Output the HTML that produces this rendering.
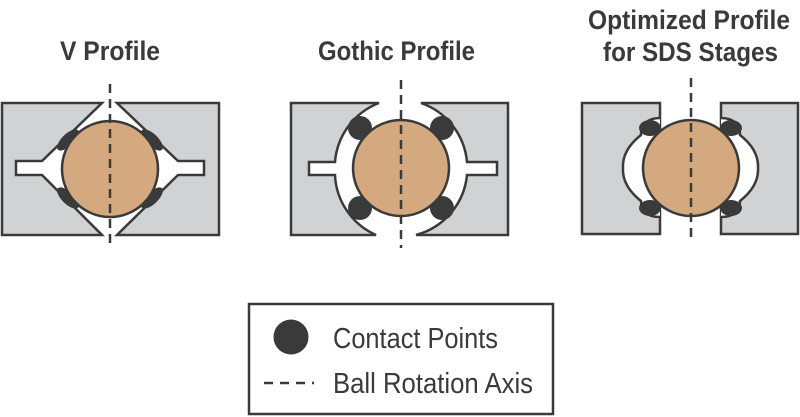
<!DOCTYPE html>
<html><head><meta charset="utf-8"><style>
html,body{margin:0;padding:0;background:#fff;}
svg{display:block;}
text{font-family:"Liberation Sans",sans-serif;fill:#3a3a3a;}
</style></head><body>
<svg width="800" height="417" viewBox="0 0 800 417" xmlns="http://www.w3.org/2000/svg">
<g stroke="#3a3a3a" stroke-width="2.5" stroke-linejoin="miter">
<!-- V profile -->
<path d="M2,103 H102 L42,161 H16 V175 H42 L102,235 H2 Z" fill="#d1d2d4"/>
<path d="M219,103 H117 L178,161 H204 V175 H178 L117,235 H219 Z" fill="#d1d2d4"/>
<g fill="#3a3a3a" stroke="none">
<ellipse cx="68" cy="140" rx="14" ry="6" transform="rotate(-44 68 140)"/>
<ellipse cx="68" cy="198" rx="14" ry="6" transform="rotate(44 68 198)"/>
<ellipse cx="152" cy="140" rx="14" ry="6" transform="rotate(44 152 140)"/>
<ellipse cx="152" cy="198" rx="14" ry="6" transform="rotate(-44 152 198)"/>
</g>
<circle cx="110" cy="169" r="48" fill="#d4a97f"/>

<!-- Gothic -->
<path d="M291,103 H374 L379,103 A69,69 0 0 0 335,162 H309 V175 H335 A69,69 0 0 0 376,235 H291 Z" fill="#d1d2d4"/>
<path d="M508,103 H424 L421,103 A69,69 0 0 1 467,162 H497 V175 H467 A69,69 0 0 1 416,235 H508 Z" fill="#d1d2d4"/>
<g fill="#3a3a3a" stroke="none">
<circle cx="360" cy="128" r="12"/>
<circle cx="442" cy="128" r="12"/>
<circle cx="360" cy="208" r="12"/>
<circle cx="442" cy="208" r="12"/>
</g>
<circle cx="401" cy="168" r="48" fill="#d4a97f"/>

<!-- Optimized -->
<rect x="582" y="103" width="78" height="131" fill="#d1d2d4"/>
<rect x="721" y="103" width="77" height="131" fill="#d1d2d4"/>
<path d="M660,118 C647,118 641,125 641,135 Q622,150 623,168 Q622,186 641,201 C641,211 647,217 660,217" fill="#fff"/>
<path d="M721,118 C734,118 740,125 740,135 Q759,150 758,168 Q759,186 740,201 C740,211 734,217 721,217" fill="#fff"/>
<g fill="#3a3a3a" stroke="none">
<ellipse cx="650" cy="128" rx="11" ry="8"/>
<ellipse cx="650" cy="208" rx="11" ry="8"/>
<ellipse cx="731" cy="128" rx="11" ry="8"/>
<ellipse cx="731" cy="208" rx="11" ry="8"/>
</g>
<circle cx="691" cy="168" r="48" fill="#d4a97f"/>
</g>

<!-- axes -->
<g stroke="#3a3a3a" stroke-width="2.5" stroke-dasharray="9,6" fill="none">
<line x1="110" y1="84" x2="110" y2="248"/>
<line x1="401" y1="80" x2="401" y2="248"/>
<line x1="691" y1="78" x2="691" y2="240"/>
</g>

<!-- titles -->
<g font-weight="bold" font-size="27">
<text x="60" y="60" textLength="100" lengthAdjust="spacingAndGlyphs">V Profile</text>
<text x="318" y="60" textLength="157" lengthAdjust="spacingAndGlyphs">Gothic Profile</text>
<text x="588" y="29" textLength="202" lengthAdjust="spacingAndGlyphs">Optimized Profile</text>
<text x="603" y="61" textLength="175" lengthAdjust="spacingAndGlyphs">for SDS Stages</text>
</g>

<!-- legend -->
<rect x="249" y="304" width="304" height="110" fill="#fff" stroke="#3a3a3a" stroke-width="2.5"/>
<circle cx="291" cy="337" r="17.5" fill="#3a3a3a"/>
<line x1="264" y1="383" x2="314" y2="383" stroke="#3a3a3a" stroke-width="2.5" stroke-dasharray="9,7"/>
<g font-size="29">
<text x="333" y="348" textLength="165" lengthAdjust="spacingAndGlyphs">Contact Points</text>
<text x="333" y="393" textLength="200" lengthAdjust="spacingAndGlyphs">Ball Rotation Axis</text>
</g>
</svg>
</body></html>
